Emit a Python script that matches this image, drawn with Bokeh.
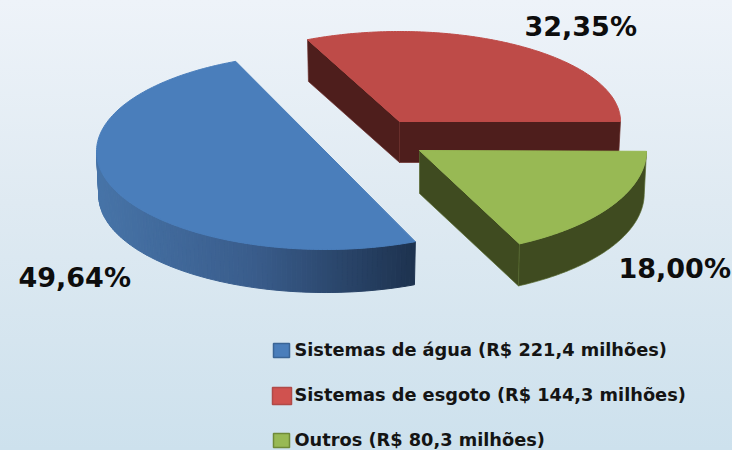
import numpy as np
from bokeh.core.properties import value
from bokeh.embed import file_html
from bokeh.models import Range1d
from bokeh.plotting import figure
from bokeh.resources import INLINE

# ---- data ----
categories = ["Sistemas de água", "Sistemas de esgoto", "Outros"]
amounts = ["221,4", "144,3", "80,3"]
shares = [49.64, 32.35, 18.00]

# ---- style and layout (page pixels) ----
top_colors = ["#4a7ebb", "#be4b48", "#98b954"]
wall_colors = ["#44709f", "#4e1e1c", "#3f4b20"]
key_colors = ["#4a7ebb", "#d0524f", "#98b954"]
key_edges = ["#3a6596", "#b04a48", "#6f8a38"]
centers_x = [325, 399, 419]
centers_y = [151, 121, 150]
radii_x = [229, 221, 227]
radii_y = [98, 90, 104]
trim_start = [2.1, 1.9, 0.5]
trim_end = [3.4, 0.0, -0.9]
depth = [44, 41, 43]
ROTATION = 64.8
BOTTOM_SCALE = 0.99
FONT = value("DejaVu Sans")

p = figure(width=732, height=450, output_backend="svg", toolbar_location=None,
           x_range=Range1d(0, 732), y_range=Range1d(450, 0), min_border=0,
           x_axis_location=None, y_axis_location=None, tools="")
p.grid.visible = False
p.outline_line_color = None
p.background_fill_alpha = 0
p.border_fill_alpha = 0

# angular extent of every slice from its share
ends = ROTATION + np.cumsum(shares) * 3.6
starts = ends - np.array(shares) * 3.6


def top(i, deg, scale=1.0, dz=0.0):
    t = np.radians(deg)
    return (centers_x[i] + radii_x[i] * scale * np.cos(t),
            centers_y[i] + radii_y[i] * scale * np.sin(t) + dz)


def arc(i):
    return np.linspace(starts[i] + trim_start[i], ends[i] + trim_end[i], 160)


def draw_top(i, with_apex=True):
    xs, ys = top(i, arc(i))
    if with_apex:
        xs, ys = np.r_[centers_x[i], xs], np.r_[centers_y[i], ys]
    p.patch(xs, ys, fill_color=top_colors[i], line_color=top_colors[i], line_width=1)


def draw_radial_wall(i, deg):
    x1, y1 = top(i, deg)
    x2, y2 = top(i, deg, BOTTOM_SCALE, depth[i])
    cx, cy = centers_x[i], centers_y[i]
    p.patch([cx, x1, x2, cx], [cy, y1, y2, cy + depth[i]], fill_color=wall_colors[i],
            line_color="#6a2c2a" if i == 1 else "#56682e", line_width=0.7)


def draw_outer_wall(i, lo, hi, colors=None):
    a = np.linspace(lo, hi, 90 if colors is not None else 120)
    x1, y1 = top(i, a)
    x2, y2 = top(i, a, BOTTOM_SCALE, depth[i])
    if colors is None:
        p.patch(np.r_[x1, x2[::-1]], np.r_[y1, y2[::-1]], fill_color=wall_colors[i],
                line_color="#56682e", line_width=0.7)
    else:
        xs = [[x1[k], x1[k + 1], x2[k + 1], x2[k]] for k in range(len(a) - 1)]
        ys = [[y1[k], y1[k + 1], y2[k + 1], y2[k]] for k in range(len(a) - 1)]
        p.patches(xs, ys, fill_color=colors, line_color=colors, line_width=1)


# red (back) slice: both cut faces are visible
red_lo, red_hi = starts[1] + trim_start[1], ends[1] + trim_end[1]
draw_radial_wall(1, red_lo)
draw_radial_wall(1, red_hi)
draw_top(1)

# blue slice: outer wall with a horizontal shading
blue_lo, blue_hi = starts[0] + trim_start[0], 180.0
a_mid = np.linspace(blue_lo, blue_hi, 90)
u = (top(0, a_mid)[0][:-1] - top(0, 180.0)[0]) / (top(0, blue_lo)[0] - top(0, 180.0)[0])
c_left, c_mid, c_right = np.array([0x47, 0x74, 0xa8]), np.array([0x3a, 0x5d, 0x8c]), np.array([0x1e, 0x33, 0x50])
shades = []
for w in u:
    rgb = c_left + (c_mid - c_left) * w / 0.5 if w < 0.5 else c_mid + (c_right - c_mid) * (w - 0.5) / 0.5
    shades.append("#%02x%02x%02x" % tuple(int(v) for v in rgb))
draw_outer_wall(0, blue_lo, blue_hi, shades)
draw_top(0, with_apex=False)

# green (front) slice
green_lo, green_hi = starts[2] + trim_start[2], ends[2] + trim_end[2]
draw_radial_wall(2, green_hi)
draw_outer_wall(2, green_lo, green_hi)
draw_top(2)

# percentage labels
pct = [f"{v:.2f}%".replace(".", ",") for v in shares]
p.text([18, 524, 618], [277, 26, 268], text=pct, text_font=FONT, text_font_style="bold",
       text_font_size="27px", text_color="#0d0d0d", text_baseline="alphabetic")

# legend
key_left = [273, 272, 273]
key_right = [289, 291, 289]
key_top = [343, 387, 433]
key_bottom = [357, 404, 447]
p.quad(left=key_left, right=key_right, top=key_top, bottom=key_bottom,
       fill_color=key_colors, line_color=key_edges, line_width=1.5)
legend = [f"{c} (R$ {m} milhões)" for c, m in zip(categories, amounts)]
p.text([294, 294, 294], [349, 394, 439], text=legend, text_font=FONT, text_font_style="bold",
       text_font_size="17.75px", text_color="#141414", text_baseline="alphabetic")

html = file_html(p, INLINE)
html = html.replace("<head>", "<head><style>html{height:100%;overflow:hidden;"
                    "background:linear-gradient(180deg,#eef3f9 0%,#dfeaf2 45%,#cde1ed 100%) no-repeat}</style>", 1)
open("out.html", "w").write(html)
